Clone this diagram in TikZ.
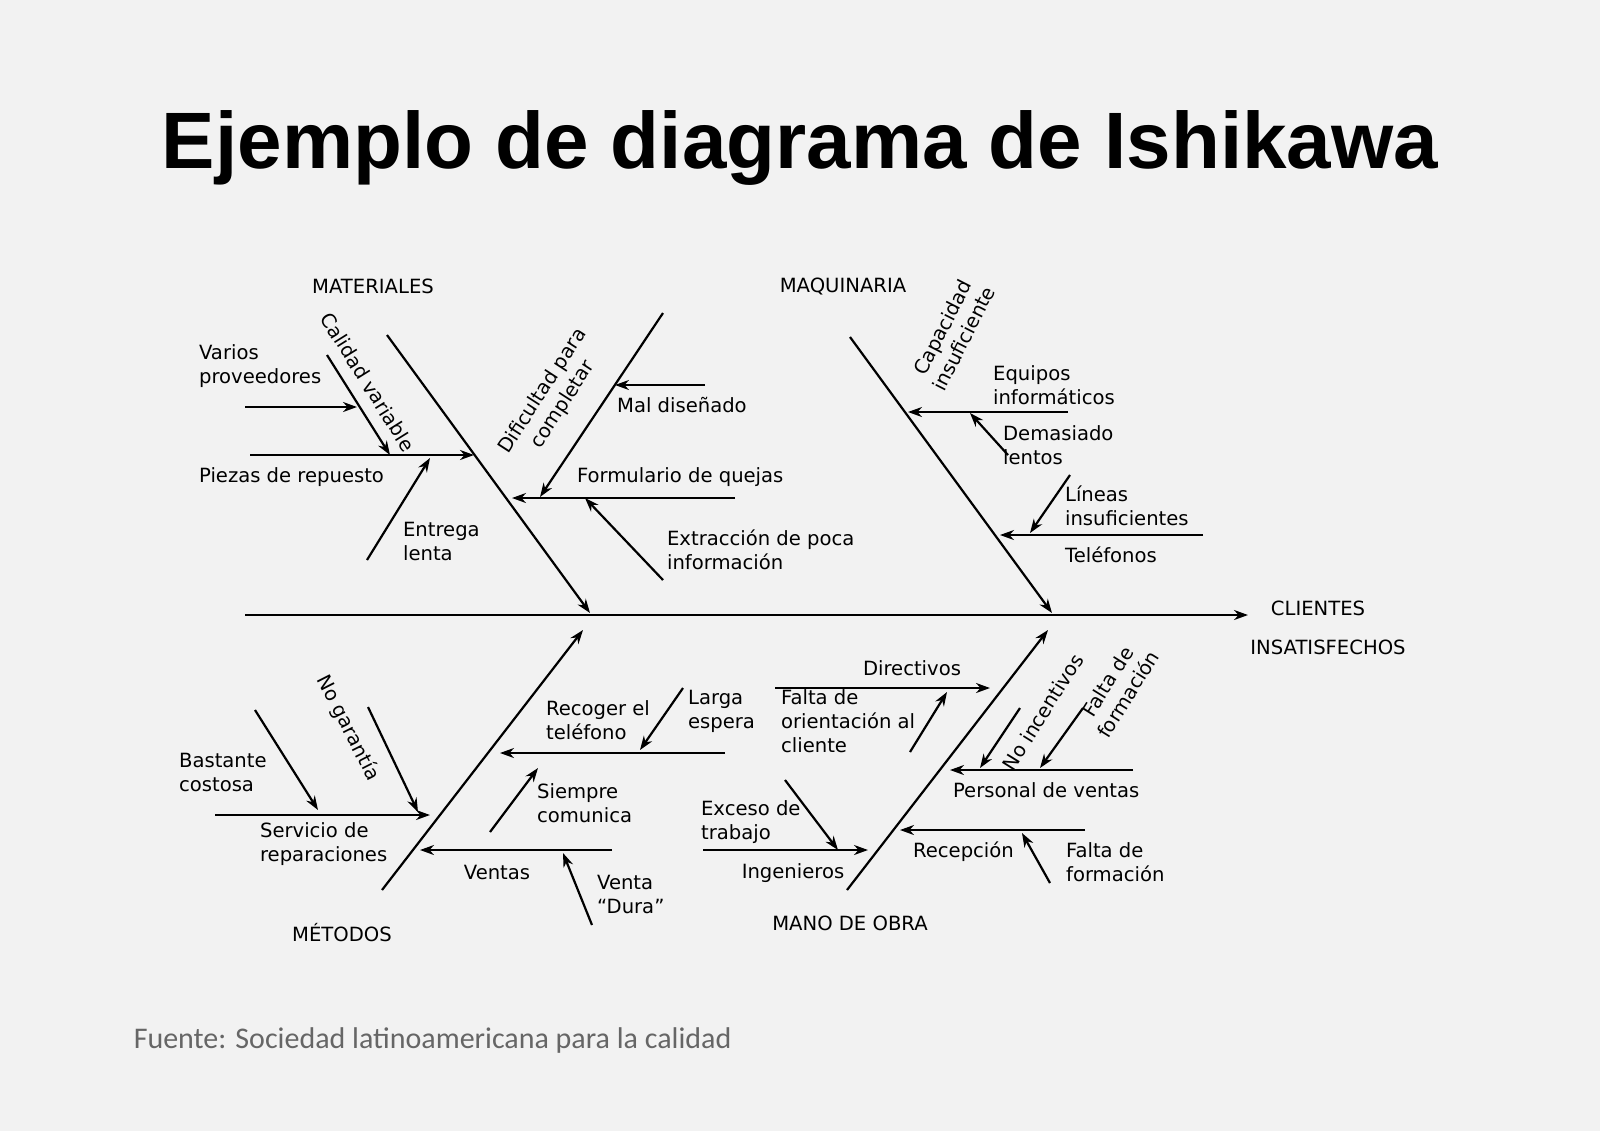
\documentclass[tikz,border=0pt]{standalone}
\usepackage{fontspec}
\usetikzlibrary{arrows.meta}
\setmainfont{DejaVu Sans}
\newfontfamily\titlefont{Liberation Sans}
\newfontfamily\srcfont{Carlito}
\begin{document}
\begin{tikzpicture}[x=0.5pt,y=-0.5pt,line width=1.1pt,
  ar/.style={-{Stealth[length=7pt,width=5pt]}},
  lb/.style={font=\fontsize{9.8}{12}\selectfont,align=left,inner sep=1pt},
  cat/.style={font=\fontsize{9.8}{12}\selectfont,inner sep=1pt}]
\fill[white!95!black] (0,0) rectangle (1600,1131);
\useasboundingbox (0,0) rectangle (1600,1131);
\node (title) at (800,148) {\titlefont\bfseries\fontsize{40}{46}\selectfont Ejemplo de diagrama de Ishikawa};
\node[anchor=west,text=black!60] (src) at (126,1040) {\srcfont\fontsize{15}{18}\selectfont Fuente: Sociedad latinoamericana para la calidad};
% spine
\coordinate (s0) at (245,615); \coordinate (s1) at (1248,615);
\draw[ar] (s0) -- (s1);
\node[cat] (eff1) at (1318,608) {CLIENTES};
\node[cat] (eff2) at (1328,647) {INSATISFECHOS};
% MATERIALES
\node[cat] (cmat) at (373,286) {MATERIALES};
\draw[ar] (387,335) -- (590,613);
\draw[ar] (327,355) -- (390,455);
\node[lb,rotate=-58] at (368,382) {Calidad variable};
\node[lb,anchor=west] at (196,366) {Varios\\proveedores};
\draw[ar] (245,407) -- (357,407);
\draw[ar] (250,455) -- (474,455);
\node[lb,anchor=west] at (196,477) {Piezas de repuesto};
\draw[ar] (367,560) -- (430,458);
\node[lb,anchor=west] at (400,541) {Entrega\\lenta};
\draw[ar] (663,313) -- (540,497);
\node[lb,rotate=57,align=center] at (553,398) {Dificultad para\\completar};
\draw[ar] (735,498) -- (512,498);
\node[lb,anchor=west] at (574,477) {Formulario de quejas};
\draw[ar] (705,385) -- (615,385);
\node[lb,anchor=west] at (614,405) {Mal diseñado};
\draw[ar] (663,580) -- (585,498);
\node[lb,anchor=west] at (664,550) {Extracción de poca\\información};
% MAQUINARIA
\node[cat] at (843,286) {MAQUINARIA};
\draw[ar] (850,337) -- (1052,613);
\draw[ar] (1068,412) -- (908,412);
\node[lb,rotate=63,align=center] at (953,333) {Capacidad\\insuficiente};
\node[lb,anchor=west] at (990,385) {Equipos\\informáticos};
\draw[ar] (1008,455) -- (970,413);
\node[lb,anchor=west] at (1000,445) {Demasiado\\lentos};
\draw[ar] (1203,535) -- (1000,535);
\node[lb,anchor=west] at (1062,555) {Teléfonos};
\draw[ar] (1070,475) -- (1030,533);
\node[lb,anchor=west] at (1062,506) {Líneas\\insuficientes};
% METODOS
\node[cat] at (342,933) {MÉTODOS};
\draw[ar] (382,890) -- (583,630);
\draw[ar] (215,815) -- (430,815);
\node[lb,anchor=west] at (257,844) {Servicio de\\reparaciones};
\node[lb,anchor=west] at (176,772) {Bastante\\costosa};
\draw[ar] (255,710) -- (318,810);
\node[lb,rotate=-63] at (348,728) {No garantía};
\draw[ar] (368,707) -- (418,812);
\draw[ar] (612,850) -- (420,850);
\node[lb] at (497,872) {Ventas};
\draw[ar] (592,925) -- (563,853);
\node[lb,anchor=west] at (594,894) {Venta\\“Dura”};
\draw[ar] (725,753) -- (500,753);
\node[lb,anchor=west] at (543,720) {Recoger el\\teléfono};
\draw[ar] (683,688) -- (640,750);
\node[lb,anchor=west] at (685,711) {Larga\\espera};
\draw[ar] (490,832) -- (538,768);
\node[lb,anchor=west] at (534,803) {Siempre\\comunica};
% MANO DE OBRA
\node[cat] at (850,923) {MANO DE OBRA};
\draw[ar] (847,890) -- (1048,630);
\draw[ar] (775,688) -- (990,688);
\node[lb] at (912,668) {Directivos};
\node[lb,anchor=north west] at (778,686) {Falta de\\orientación al\\cliente};
\draw[ar] (910,752) -- (947,692);
\draw[ar] (703,850) -- (868,850);
\node[lb] at (793,873) {Ingenieros};
\node[lb,anchor=west] at (698,822) {Exceso de\\trabajo};
\draw[ar] (785,780) -- (838,850);
\draw[ar] (1133,770) -- (950,770);
\node[lb,anchor=west] at (950,790) {Personal de ventas};
\node[lb,rotate=58] at (1043,712) {No incentivos};
\draw[ar] (1020,708) -- (980,768);
\node[lb,rotate=58,align=center] at (1118,688) {Falta de\\formación};
\draw[ar] (1083,708) -- (1040,768);
\draw[ar] (1085,830) -- (900,830);
\node[lb,anchor=west] at (910,852) {Recepción};
\node[lb,anchor=west] at (1063,862) {Falta de\\formación};
\draw[ar] (1050,883) -- (1022,833);
\end{tikzpicture}
\end{document}
